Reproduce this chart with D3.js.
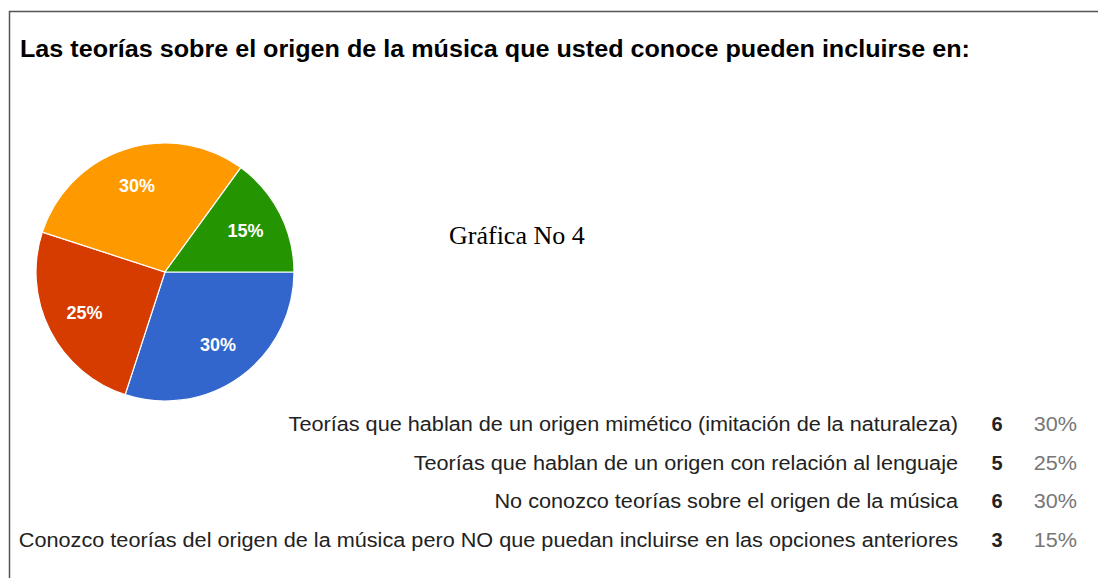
<!DOCTYPE html>
<meta charset="utf-8">
<html>
<head>
<style>
body { margin: 0; background: #fff; }
.legend-label { font-family: Arial, "Liberation Sans", sans-serif; font-size: 20px; fill: #222; }
.legend-count { font-family: Arial, "Liberation Sans", sans-serif; font-size: 20px; font-weight: bold; fill: #222; }
.legend-pct { font-family: Arial, "Liberation Sans", sans-serif; font-size: 20px; fill: #777; }
.slice-label { font-family: Arial, "Liberation Sans", sans-serif; font-size: 18px; font-weight: bold; fill: #fff; }
</style>
</head>
<body>
<svg id="chart" width="1098" height="578"></svg>
<script src="https://d3js.org/d3.v7.min.js"></script>
<script>

// data
var categories = [
  "Teorías que hablan de un origen mimético (imitación de la naturaleza)",
  "Teorías que hablan de un origen con relación al lenguaje",
  "No conozco teorías sobre el origen de la música",
  "Conozco teorías del origen de la música pero NO que puedan incluirse en las opciones anteriores"
];
var counts = [6, 5, 6, 3];
var colors = ["#3366cc", "#d63b00", "#ff9900", "#249400"];
var title = "Las teorías sobre el origen de la música que usted conoce pueden incluirse en:";
var caption = "Gráfica No 4";

var svg = d3.select("#chart");
var total = d3.sum(counts);

// the screenshot is a bit wider than normal type, stretch text horizontally
function widen(sel, k) {
  sel.each(function() {
    var w = this.getComputedTextLength();
    d3.select(this).attr("textLength", w * k).attr("lengthAdjust", "spacingAndGlyphs");
  });
}

// frame (top and left edges only)
svg.append("path")
  .attr("d", "M9.5,578 V11.5 H1098")
  .attr("fill", "none")
  .attr("stroke", "#555")
  .attr("stroke-width", 1.5);

svg.append("text")
  .attr("x", 20)
  .attr("y", 57)
  .style("font-family", "Arial, 'Liberation Sans', sans-serif")
  .style("font-size", "23px")
  .style("font-weight", "bold")
  .style("fill", "#000")
  .text(title)
  .call(widen, 1.093);

svg.append("text")
  .attr("x", 449)
  .attr("y", 244)
  .style("font-family", "'Times New Roman', 'Liberation Serif', serif")
  .style("font-size", "26px")
  .style("fill", "#000")
  .text(caption);

// pie, starting at 3 o'clock, clockwise
var radius = 129;
var pie = d3.pie().sort(null).startAngle(Math.PI / 2).endAngle(Math.PI / 2 + 2 * Math.PI);
var arcs = pie(counts);
var arc = d3.arc().innerRadius(0).outerRadius(radius);
var labelArc = d3.arc().innerRadius(radius * 0.7).outerRadius(radius * 0.7);

var g = svg.append("g").attr("transform", "translate(165,272)");
g.selectAll("path.slice")
  .data(arcs)
  .enter().append("path")
    .attr("class", "slice")
    .attr("d", arc)
    .attr("fill", function(d, i) { return colors[i]; })
    .attr("stroke", "#fff")
    .attr("stroke-width", 1.2);

g.selectAll("text.slice-label")
  .data(arcs)
  .enter().append("text")
    .attr("class", "slice-label")
    .attr("transform", function(d) { return "translate(" + labelArc.centroid(d) + ")"; })
    .attr("text-anchor", "middle")
    .attr("dy", "0.35em")
    .text(function(d) { return Math.round(d.value / total * 100) + "%"; });

// legend table
var y = d3.scalePoint().domain(d3.range(categories.length)).range([424, 540]);

var rows = svg.append("g").selectAll("g")
  .data(categories)
  .enter().append("g")
    .attr("transform", function(d, i) { return "translate(0," + y(i) + ")"; });

rows.append("text")
  .attr("class", "legend-label")
  .attr("x", 958)
  .attr("dy", "0.35em")
  .attr("text-anchor", "end")
  .text(function(d) { return d; })
  .call(widen, 1.083);

rows.append("text")
  .attr("class", "legend-count")
  .attr("x", 997)
  .attr("dy", "0.35em")
  .attr("text-anchor", "middle")
  .text(function(d, i) { return counts[i]; });

rows.append("text")
  .attr("class", "legend-pct")
  .attr("x", 1077)
  .attr("dy", "0.35em")
  .attr("text-anchor", "end")
  .text(function(d, i) { return Math.round(counts[i] / total * 100) + "%"; })
  .call(widen, 1.08);

</script>
</body>
</html>
